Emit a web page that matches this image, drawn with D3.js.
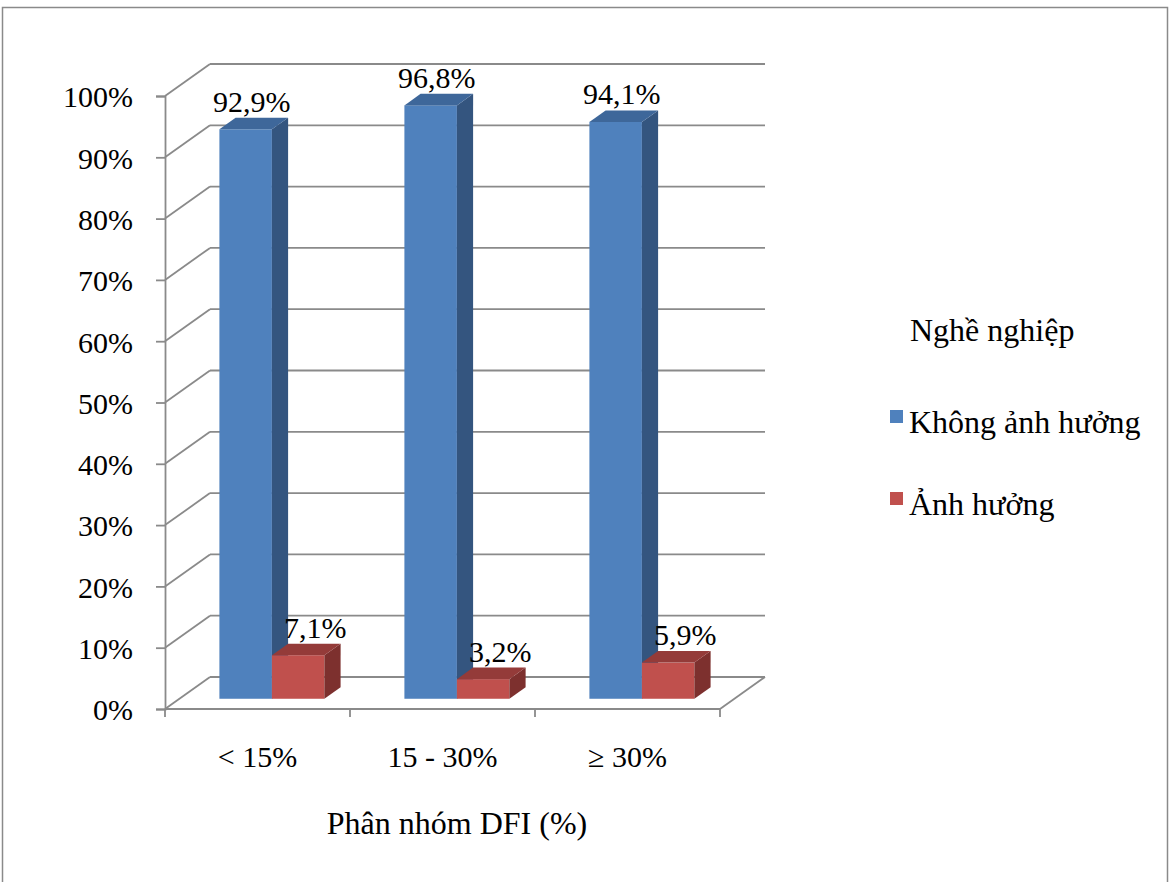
<!DOCTYPE html>
<html>
<head>
<meta charset="utf-8">
<script src="https://cdn.jsdelivr.net/npm/d3@7"></script>
<style>
  body { margin: 0; background: #fff; }
  text { font-family: "Liberation Serif", "Times New Roman", serif; fill: #000; }
</style>
</head>
<body>
<div id="chart"></div>
<script>
const categories = ["< 15%", "15 - 30%", "≥ 30%"];
const seriesNames = ["Không ảnh hưởng", "Ảnh hưởng"];
const khongAnhHuong = [92.9, 96.8, 94.1];
const anhHuong = [7.1, 3.2, 5.9];
const yTicks = [0, 10, 20, 30, 40, 50, 60, 70, 80, 90, 100];
const legendTitle = "Nghề nghiệp";
const xTitle = "Phân nhóm DFI (%)";

const seriesValues = [khongAnhHuong, anhHuong];
const colors = [
    { front: "#4F81BD", top: "#3E679A", side: "#34557F" },
    { front: "#C0504D", top: "#943B39", side: "#7D302E" }
];

const W = 1171, H = 882;
const depthX = 45, depthY = -32;     // back wall offset
const barFront = 0.32, barDepth = 0.36;
const serif = '"Liberation Serif", "Times New Roman", serif';

const svg = d3.select("#chart").append("svg")
    .attr("width", W)
    .attr("height", H);

// outer frame
svg.append("rect")
    .attr("x", 2.5).attr("y", 7.5)
    .attr("width", 1165).attr("height", 890)
    .attr("fill", "none")
    .attr("stroke", "#8a8a8a")
    .attr("stroke-width", 1.5);

const x0 = d3.scaleBand().domain(categories).range([165, 720]).padding(0);
const x1 = d3.scaleBand().domain(seriesNames).range([0, x0.bandwidth()])
    .paddingInner(0).paddingOuter(0.762);
const y = d3.scaleLinear().domain([0, 100]).range([709, 96]);

const gridColor = "#8a8a8a";
const grid = svg.append("g").attr("stroke", gridColor).attr("stroke-width", 1.8).attr("fill", "none");

// back wall gridlines + left wall diagonals
yTicks.forEach(t => {
    grid.append("line")
        .attr("x1", x0.range()[0] + depthX).attr("x2", x0.range()[1] + depthX)
        .attr("y1", y(t) + depthY).attr("y2", y(t) + depthY);
    grid.append("line")
        .attr("x1", x0.range()[0]).attr("x2", x0.range()[0] + depthX)
        .attr("y1", y(t)).attr("y2", y(t) + depthY);
});

// floor front & right edges
grid.append("line")
    .attr("x1", x0.range()[0]).attr("x2", x0.range()[1])
    .attr("y1", y(0)).attr("y2", y(0));
grid.append("line")
    .attr("x1", x0.range()[1]).attr("x2", x0.range()[1] + depthX)
    .attr("y1", y(0)).attr("y2", y(0) + depthY);

// y axis
const yAxis = svg.append("g")
    .attr("transform", `translate(${x0.range()[0]},0)`)
    .call(d3.axisLeft(y).tickValues(yTicks).tickSize(9).tickPadding(23).tickFormat(d => d + "%"));
yAxis.attr("font-family", null).attr("font-size", null);
yAxis.select(".domain").attr("stroke", gridColor).attr("stroke-width", 1.8);
yAxis.selectAll(".tick line").attr("stroke", gridColor).attr("stroke-width", 1.8);
yAxis.selectAll(".tick text")
    .style("font-family", serif)
    .style("font-size", "30px")
    .attr("fill", "#000")
    .attr("dy", "0.36em");

// x axis
const xAxis = svg.append("g")
    .attr("transform", `translate(0,${y(0)})`)
    .call(d3.axisBottom(x0).tickSize(0).tickPadding(37));
xAxis.attr("font-family", null).attr("font-size", null);
xAxis.select(".domain").remove();
xAxis.selectAll(".tick text")
    .style("font-family", serif)
    .style("font-size", "30px")
    .attr("fill", "#000");
// x ticks at category boundaries
const bounds = categories.map(c => x0(c)).concat([x0.range()[1]]);
svg.append("g").selectAll("line").data(bounds).join("line")
    .attr("x1", d => d).attr("x2", d => d)
    .attr("y1", y(0)).attr("y2", y(0) + 8)
    .attr("stroke", gridColor).attr("stroke-width", 1.8);

// bars
const offX = depthX * barFront, offY = depthY * barFront;
const sideX = depthX * barDepth, sideY = depthY * barDepth;

const bars = [];
categories.forEach((c, i) => {
    seriesNames.forEach((s, j) => {
        bars.push({ cat: c, series: s, si: j, value: seriesValues[j][i] });
    });
});

const barG = svg.append("g");
bars.forEach(d => {
    const xl = x0(d.cat) + x1(d.series) + offX;
    const xr = xl + x1.bandwidth();
    const yt = y(d.value) + offY;
    const yb = y(0) + offY;
    const col = colors[d.si];
    const g = barG.append("g");
    g.append("rect")
        .attr("x", xl).attr("y", yt)
        .attr("width", xr - xl).attr("height", yb - yt)
        .attr("fill", col.front);
    g.append("polygon")
        .attr("points", [[xr, yt], [xr + sideX, yt + sideY], [xr + sideX, yb + sideY], [xr, yb]].join(" "))
        .attr("fill", col.side);
    g.append("polygon")
        .attr("points", [[xl, yt], [xl + sideX, yt + sideY], [xr + sideX, yt + sideY], [xr, yt]].join(" "))
        .attr("fill", col.top);
    d.lx = (xl + xr + sideX) / 2 + (d.si === 1 ? 9 : -2);
    d.ly = yt + sideY - 6;
});

svg.append("g").selectAll("text").data(bars).join("text")
    .attr("x", d => d.lx)
    .attr("y", d => d.ly)
    .attr("text-anchor", "middle")
    .style("font-family", serif)
    .style("font-size", "30px")
    .text(d => d.value.toFixed(1).replace(".", ",") + "%");

// x axis title
svg.append("text")
    .attr("x", 457).attr("y", 834)
    .attr("text-anchor", "middle")
    .style("font-family", serif)
    .style("font-size", "32px")
    .text(xTitle);

// legend
const legend = svg.append("g");
legend.append("text")
    .attr("x", 910).attr("y", 341)
    .style("font-family", serif)
    .style("font-size", "32px")
    .text(legendTitle);
seriesNames.forEach((s, j) => {
    legend.append("rect")
        .attr("x", 890).attr("y", 410 + j * 82)
        .attr("width", 13).attr("height", 13)
        .attr("fill", colors[j].front);
    legend.append("text")
        .attr("x", 909).attr("y", 433 + j * 82)
        .style("font-family", serif)
        .style("font-size", "32px")
        .text(s);
});
</script>
</body>
</html>
